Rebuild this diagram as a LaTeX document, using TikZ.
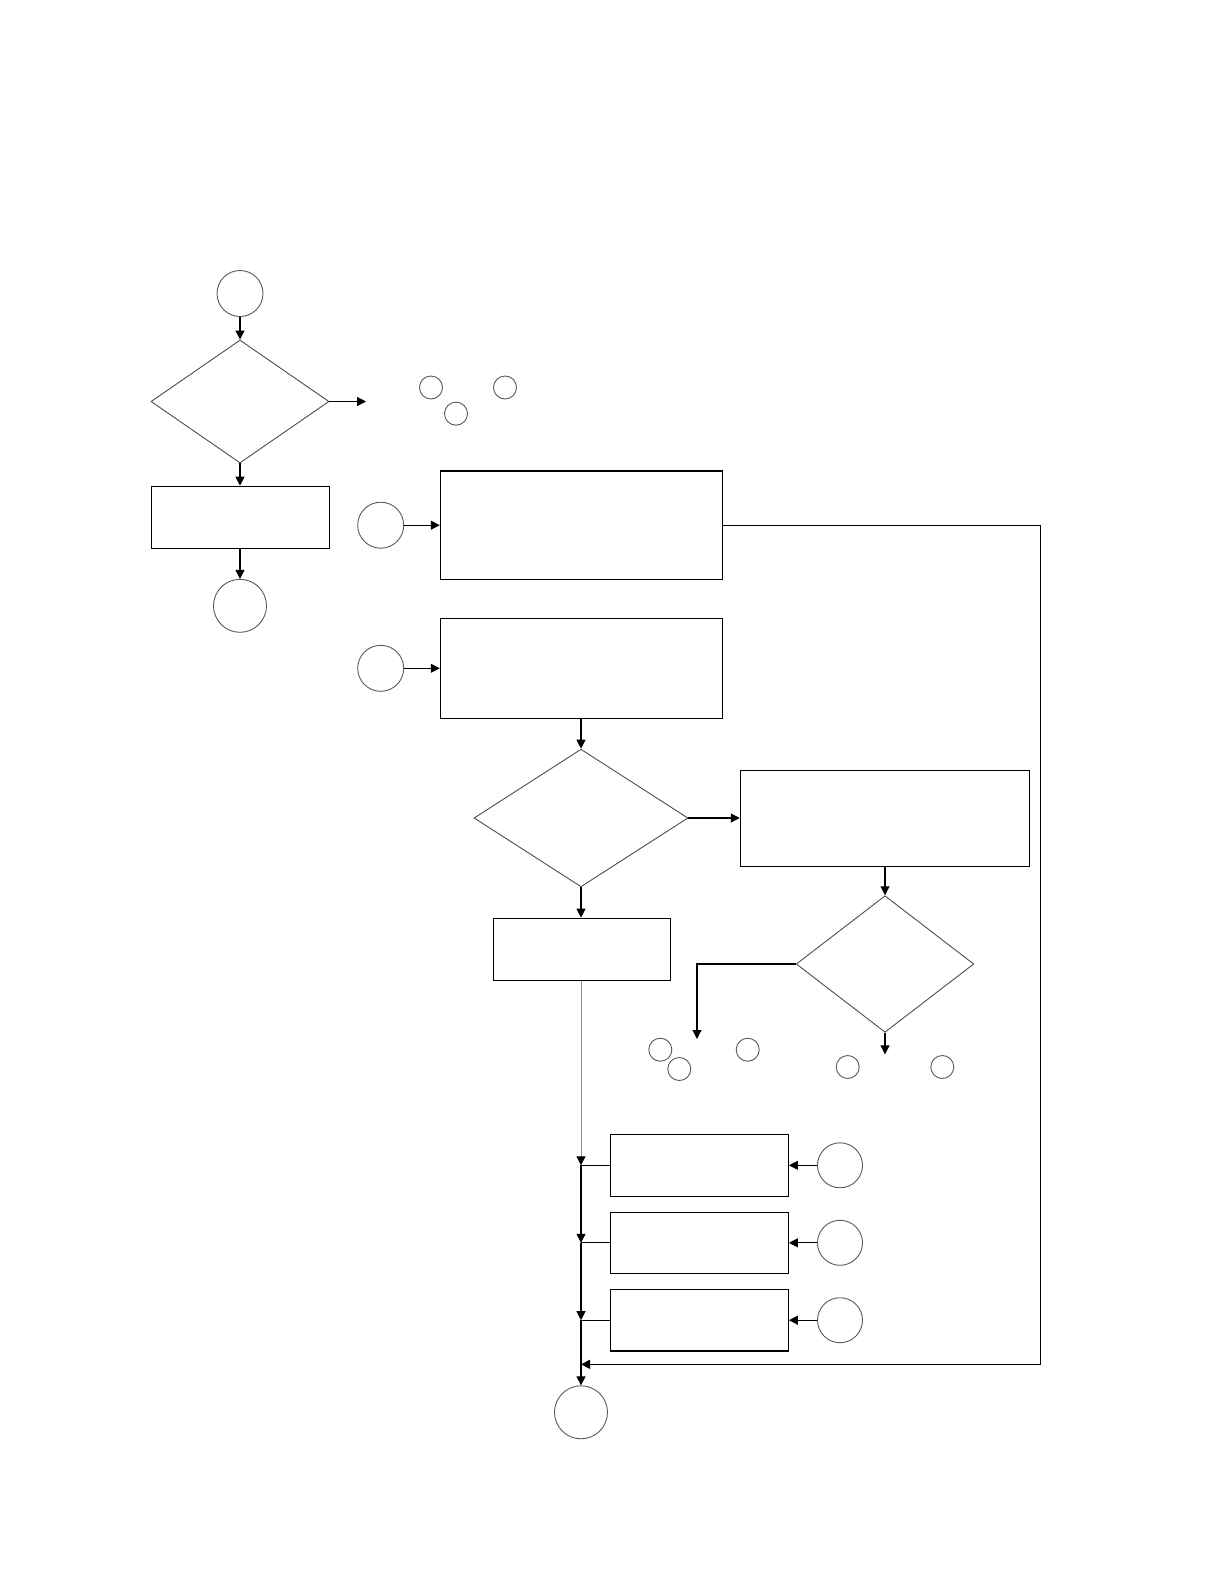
\documentclass[tikz,border=0pt]{standalone}
\usetikzlibrary{shapes.geometric,arrows.meta}
\begin{document}
\begin{tikzpicture}[x=1pt,y=-1pt,
  box/.style={draw=black,line width=1.2pt,inner sep=0pt,fill=white},
  circ/.style={circle,draw=black!65,line width=0.9pt,inner sep=0pt},
  scirc/.style={circle,draw=black!65,line width=0.9pt,inner sep=0pt,minimum size=23pt},
  dia/.style={diamond,draw=black!70,line width=0.9pt,inner sep=0pt},
  arr/.style={-{Triangle[length=9pt,width=9pt,black]},line width=1.1pt},
  ln/.style={line width=1.1pt}]
\useasboundingbox (0,0) rectangle (1224,1584);
% left column
\node[circ,minimum size=46pt] (c1) at (240,293.5) {};
\node[dia,minimum width=178pt,minimum height=123pt] (d1) at (240,401.5) {};
\node[box,minimum width=178.4pt,minimum height=62pt] (r1) at (240.5,517.3) {};
\node[circ,minimum size=53pt] (c2) at (240,605.8) {};
\coordinate (e1) at (366,401.5);
\draw[arr] (c1) -- (d1.north);
\draw[arr] (d1.south) -- (r1.north -| d1.south);
\draw[arr] (r1.south -| c2.north) -- (c2.north);
\draw[arr] (d1.east) -- (e1);
\node[scirc] (s1) at (431,387.5) {};
\node[scirc] (s2) at (505,387.5) {};
\node[scirc] (s3) at (456,413.7) {};
% boxes A and P
\node[circ,minimum size=46pt] (cA) at (380.7,525.2) {};
\node[box,minimum width=282pt,minimum height=108.3pt] (A) at (581.4,525.2) {};
\node[circ,minimum size=46pt] (cP) at (380.7,668.3) {};
\node[box,minimum width=282pt,minimum height=100pt] (P) at (581.4,668.3) {};
\draw[arr] (cA) -- (A);
\draw[arr] (cP) -- (P);
% decision 2
\node[dia,minimum width=214pt,minimum height=137.7pt] (d2) at (581,818) {};
\node[box,minimum width=289.3pt,minimum height=96pt] (D) at (885,818.3) {};
\node[box,minimum width=177.2pt,minimum height=62pt] (C) at (581.9,949.3) {};
\draw[arr] (P.south -| d2.north) -- (d2.north);
\draw[arr] (d2.east) -- (D.west |- d2.east);
\draw[arr] (d2.south) -- (C.north -| d2.south);
% decision 3
\node[dia,minimum width=177.6pt,minimum height=136.6pt] (d3) at (885,964) {};
\draw[arr] (D.south) -- (d3.north);
\coordinate (e2) at (697,1039);
\coordinate (e3) at (885,1054.3);
\draw[arr] (d3.west) -| (e2);
\draw[arr] (d3.south) -- (e3);
\node[scirc] (s4) at (660.3,1049.7) {};
\node[scirc] (s5) at (679.3,1069) {};
\node[scirc] (s6) at (747.7,1049.7) {};
\node[scirc] (s7) at (847.7,1067) {};
\node[scirc] (s8) at (942.3,1067) {};
% bottom boxes
\node[box,minimum width=178pt,minimum height=62pt] (B1) at (699.3,1165.3) {};
\node[box,minimum width=178pt,minimum height=61pt] (B2) at (699.3,1242.8) {};
\node[box,minimum width=178pt,minimum height=61.7pt] (B3) at (699.3,1320.2) {};
\node[circ,minimum size=45pt] (k1) at (840,1165.3) {};
\node[circ,minimum size=45pt] (k2) at (840,1242.8) {};
\node[circ,minimum size=45pt] (k3) at (840,1320.2) {};
\draw[arr] (k1) -- (B1);
\draw[arr] (k2) -- (B2);
\draw[arr] (k3) -- (B3);
\coordinate (j1) at (581,1165.3);
\coordinate (j2) at (581,1242.8);
\coordinate (j3) at (581,1320.2);
\coordinate (j4) at (581,1364.3);
\node[circ,minimum size=53pt] (cE) at (581,1412.3) {};
\draw[arr,draw=black!45,line width=0.9pt] (C.south -| j1) -- (j1);
\draw[arr] (j1) -- (j2);
\draw[arr] (j2) -- (j3);
\draw[arr] (j3) -- (cE.north);
\draw[ln] (B1.west) -- (j1);
\draw[ln] (B2.west) -- (j2);
\draw[ln] (B3.west) -- (j3);
% return line
\coordinate (rt) at (1040.4,525.3);
\draw[arr] (A.east |- rt) -- (rt) |- (j4);
\end{tikzpicture}
\end{document}
